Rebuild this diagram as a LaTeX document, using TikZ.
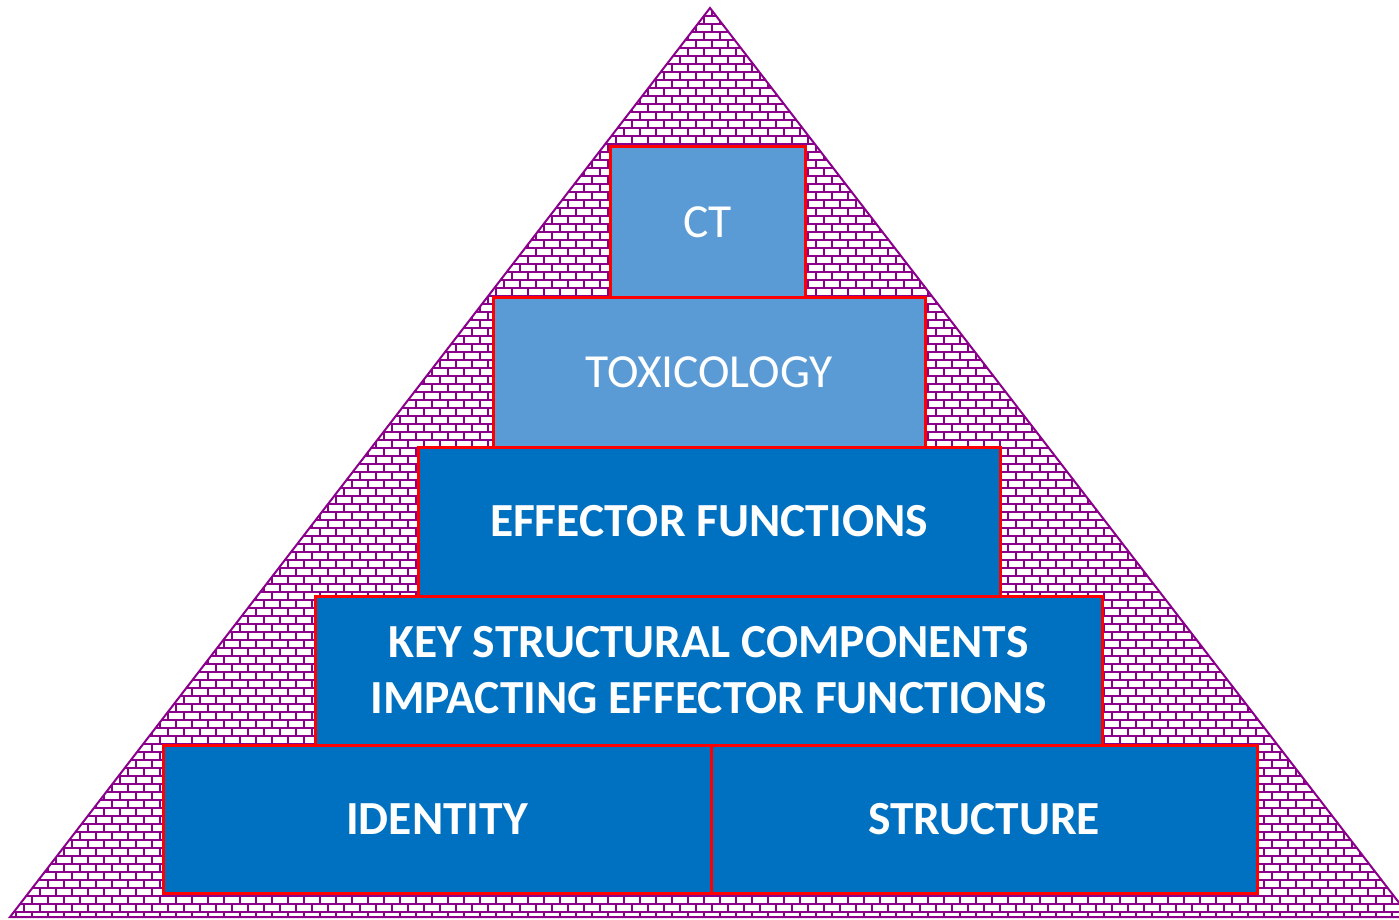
\documentclass[tikz,border=0pt]{standalone}
\usepackage{fontspec}
\setmainfont{Carlito}
\usepackage{tikz}
\usetikzlibrary{patterns}

\definecolor{brickpurple}{RGB}{139,0,139}
\definecolor{tierlight}{RGB}{91,155,213}
\definecolor{tierdark}{RGB}{0,112,192}

% brick wall with thick mortar lines
\pgfdeclarepatternformonly{brickwall}{\pgfpoint{-1pt}{-1pt}}{\pgfpoint{17pt}{17pt}}{\pgfpoint{16pt}{16pt}}
{
  \pgfsetlinewidth{2pt}
  \pgfpathmoveto{\pgfpoint{0pt}{0pt}}\pgfpathlineto{\pgfpoint{16pt}{0pt}}
  \pgfpathmoveto{\pgfpoint{0pt}{8pt}}\pgfpathlineto{\pgfpoint{16pt}{8pt}}
  \pgfpathmoveto{\pgfpoint{0pt}{16pt}}\pgfpathlineto{\pgfpoint{16pt}{16pt}}
  \pgfpathmoveto{\pgfpoint{0pt}{0pt}}\pgfpathlineto{\pgfpoint{0pt}{8pt}}
  \pgfpathmoveto{\pgfpoint{16pt}{0pt}}\pgfpathlineto{\pgfpoint{16pt}{8pt}}
  \pgfpathmoveto{\pgfpoint{8pt}{8pt}}\pgfpathlineto{\pgfpoint{8pt}{16pt}}
  \pgfusepath{stroke}
}

\begin{document}
\begin{tikzpicture}[x=1pt, y=-1pt, line join=miter,
  tier/.style={draw=red, line width=3pt, inner sep=0pt, outer sep=0pt,
    text=white, align=center, font=\fontsize{47.5}{56}\selectfont},
  tierlite/.style={tier, fill=tierlight},
  tierbold/.style={tier, fill=tierdark, font=\fontsize{47.5}{56}\selectfont\bfseries}]
\useasboundingbox (0,0) rectangle (1399,920);
% pyramid of bricks
\draw[brickpurple, line width=2pt, pattern=brickwall, pattern color=brickpurple]
  (10,917) -- (710,8) -- (1410,917) -- cycle;
% top tiers
\node[tierlite, minimum width=194.5pt, minimum height=150pt] (ct) at (707.75,222) {CT};
\node[tierlite, minimum width=432pt, minimum height=150pt] (tox) at (709,372) {TOXICOLOGY};
% middle tiers
\node[tierbold, minimum width=582pt, minimum height=149pt] (effector) at (709,521.5) {EFFECTOR FUNCTIONS};
\node[tierbold, minimum width=787pt, minimum height=149pt] (keycomp) at (708.5,670.5)
  {KEY STRUCTURAL COMPONENTS\\IMPACTING EFFECTOR FUNCTIONS};
% base
\node[tierbold, minimum width=548pt, minimum height=148pt] (identity) at (437,819) {IDENTITY};
\node[tierbold, minimum width=546pt, minimum height=148pt] (structure) at (984,819) {STRUCTURE};
\end{tikzpicture}
\end{document}
